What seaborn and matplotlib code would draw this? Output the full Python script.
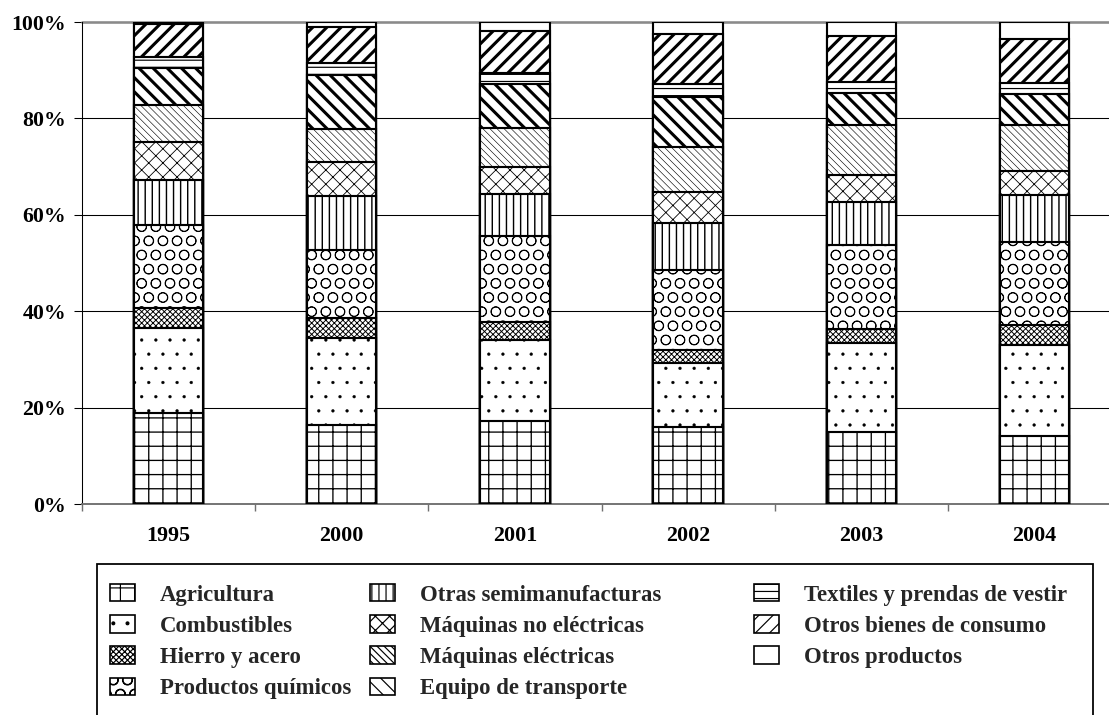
import numpy as np
import pandas as pd
import matplotlib
matplotlib.use("Agg")
import matplotlib.pyplot as plt
import seaborn as sns
from matplotlib.patches import Patch, Rectangle

# ---------------- data (percent shares) ----------------
years = ["1995", "2000", "2001", "2002", "2003", "2004"]
categories = ["Agricultura", "Combustibles", "Hierro y acero", "Productos químicos",
              "Otras semimanufacturas", "Máquinas no eléctricas", "Máquinas eléctricas",
              "Equipo de transporte", "Textiles y prendas de vestir",
              "Otros bienes de consumo", "Otros productos"]
agricultura = [18.9, 16.4, 17.2, 16.0, 15.0, 14.1]
combustibles = [17.6, 18.0, 16.8, 13.2, 18.3, 18.8]
hierro_acero = [4.2, 4.1, 3.8, 2.8, 3.1, 4.2]
quimicos = [17.2, 14.2, 17.8, 16.5, 17.3, 17.3]
semimanufacturas = [9.3, 11.1, 8.7, 9.9, 8.9, 9.7]
maq_no_electricas = [7.9, 7.2, 5.7, 6.4, 5.7, 5.0]
maq_electricas = [7.7, 6.9, 8.1, 9.3, 10.3, 9.6]
equipo_transporte = [7.7, 11.1, 9.0, 10.3, 6.6, 6.3]
textiles = [2.2, 2.4, 2.3, 2.7, 2.4, 2.4]
otros_bienes = [6.9, 7.6, 8.8, 10.4, 9.5, 9.1]
otros_productos = [0.4, 1.0, 1.8, 2.5, 2.9, 3.5]
ytick_vals = [0, 20, 40, 60, 80, 100]
ytick_labels = ["0%", "20%", "40%", "60%", "80%", "100%"]

series = [agricultura, combustibles, hierro_acero, quimicos, semimanufacturas,
          maq_no_electricas, maq_electricas, equipo_transporte, textiles,
          otros_bienes, otros_productos]

# ---------------- styles ----------------
hatches = ["+", ".", "xxxxx", "O", "||", "xx", "\\\\\\\\", "\\\\", "--", "//", ""]
hatch_lw = [1.1, 0.3, 0.8, 0.7, 1.2, 0.7, 0.5, 2.6, 1.0, 2.6, 1.0]

DPI = 85
W, H = 1109, 715
sns.set_theme(style="white")
plt.rcParams["font.family"] = ["Liberation Serif", "DejaVu Serif"]
plt.rcParams["font.weight"] = "bold"
plt.rcParams["hatch.color"] = "black"

fig = plt.figure(figsize=(W / DPI, H / DPI), dpi=DPI)
fig.patch.set_facecolor("white")
ax = fig.add_axes([82 / W, (H - 504) / H, 1039 / W, 482 / H])


def set_hlw(p, lw):
    if hasattr(p, "set_hatch_linewidth"):
        p.set_hatch_linewidth(lw)
    else:
        p._hatch_linewidth = lw


cum = np.cumsum(np.array(series, dtype=float), axis=0)
# draw from the top of the stack down; each lower bar hides the hatch of the one above
for k, i in enumerate(range(len(series) - 1, -1, -1)):
    df = pd.DataFrame({"year": years, "value": cum[i]})
    n_before = len(ax.patches)
    with plt.rc_context({"hatch.linewidth": hatch_lw[i]}):
        sns.barplot(data=df, x="year", y="value", order=years, width=0.40,
                    color="white", saturation=1, edgecolor="black", linewidth=1.8,
                    hatch=hatches[i], errorbar=None, ax=ax, zorder=3 + k)
    for p in ax.patches[n_before:]:
        p.set_facecolor("white")
        set_hlw(p, hatch_lw[i])

ax.set_xlim(-0.5, 5.5)
ax.set_ylim(0, 100)
ax.set_xlabel("")
ax.set_ylabel("")

# gridlines
for v in ytick_vals[1:-1]:
    ax.axhline(v, color="black", lw=0.9, zorder=1)
ax.axhline(100, color="#8a8a8a", lw=2.2, zorder=1, clip_on=False)

for s in ["top", "right"]:
    ax.spines[s].set_visible(False)
ax.spines["left"].set_color("black")
ax.spines["left"].set_linewidth(0.9)
ax.spines["bottom"].set_color("#707070")
ax.spines["bottom"].set_linewidth(1.6)

ax.set_yticks(ytick_vals)
ax.set_yticklabels(ytick_labels)
ax.tick_params(axis="y", direction="out", length=6.5, width=0.9, color="black",
               pad=7, labelsize=18.5, left=True)
ax.set_xticks(range(len(years)))
ax.set_xticklabels(years)
ax.tick_params(axis="x", which="major", length=0, pad=19, labelsize=18.6)
ax.set_xticks(np.arange(-0.5, len(years), 1.0), minor=True)
ax.tick_params(axis="x", which="minor", direction="out", length=6, width=1.2,
               color="#707070", bottom=True)
for lab in ax.get_xticklabels() + ax.get_yticklabels():
    lab.set_fontweight("bold")
    lab.set_color("black")

# ---------------- legend ----------------
handles = []
for i in range(len(series)):
    with plt.rc_context({"hatch.linewidth": hatch_lw[i]}):
        h = Patch(facecolor="white", edgecolor="black", linewidth=1.4, hatch=hatches[i])
    set_hlw(h, hatch_lw[i])
    handles.append(h)

cols = [[0, 1, 2, 3], [4, 5, 6, 7], [8, 9, 10]]
col_x = [110, 370, 754]
leg_top = 584
for c, idxs in enumerate(cols):
    fig.legend([handles[i] for i in idxs], [categories[i] for i in idxs],
               loc="upper left",
               bbox_to_anchor=(col_x[c] / W, 1 - leg_top / H),
               bbox_transform=fig.transFigure,
               frameon=False, borderpad=0, borderaxespad=0,
               handlelength=1.1, handleheight=0.8, handletextpad=1.1,
               labelspacing=0.42,
               prop={"family": "Liberation Serif", "weight": "bold", "size": 19.3})

fig.add_artist(Rectangle((97 / W, -20 / H), (1093 - 97) / W, (H - 564 + 20) / H,
                         transform=fig.transFigure, fill=False, edgecolor="black",
                         linewidth=1.5, clip_on=False))

fig.savefig("out.png", dpi=DPI, facecolor="white")
